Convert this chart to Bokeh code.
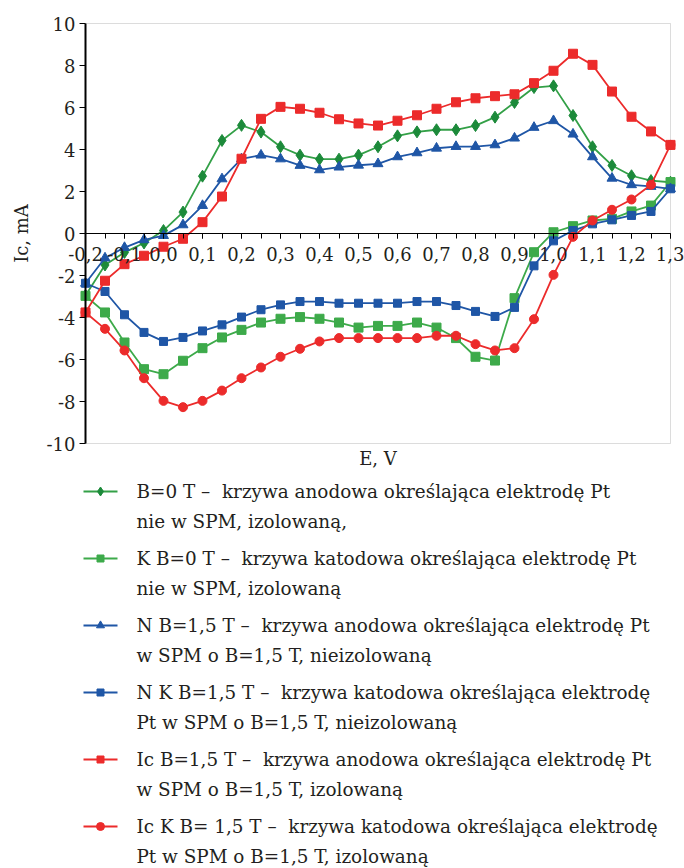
from bokeh.plotting import figure
from bokeh.layouts import column
from bokeh.models import Range1d, LinearAxis, FixedTicker, Label, BoxAnnotation
from bokeh.core.properties import value
from bokeh.embed import file_html
from bokeh.resources import INLINE

# ---------------- data ----------------
E = [-0.2, -0.15, -0.1, -0.05, 0.0, 0.05, 0.1, 0.15, 0.2, 0.25, 0.3, 0.35, 0.4, 0.45, 0.5, 0.55,
     0.6, 0.65, 0.7, 0.75, 0.8, 0.85, 0.9, 0.95, 1.0, 1.05, 1.1, 1.15, 1.2, 1.25, 1.3]

# B=0 T anodic (diamonds)
b0_anod = [-2.95, -1.5, -0.9, -0.45, 0.14, 1.02, 2.73, 4.43, 5.15, 4.83, 4.13, 3.73, 3.54, 3.54,
           3.73, 4.13, 4.65, 4.84, 4.94, 4.94, 5.14, 5.54, 6.24, 6.95, 7.03, 5.62, 4.13, 3.24,
           2.75, 2.52, 2.44]
# K B=0 T cathodic (squares)
b0_kat = [-2.97, -3.76, -5.19, -6.46, -6.70, -6.06, -5.46, -4.95, -4.59, -4.24, -4.06, -3.98,
          -4.06, -4.24, -4.48, -4.40, -4.40, -4.24, -4.48, -4.98, -5.87, -6.05, -3.08, -0.89,
          0.06, 0.35, 0.62, 0.70, 1.05, 1.33, 2.45]
# N B=1,5 T anodic (triangles)
n_anod = [-2.37, -1.17, -0.67, -0.30, -0.10, 0.41, 1.33, 2.60, 3.55, 3.73, 3.55, 3.24, 3.03,
          3.16, 3.25, 3.32, 3.65, 3.84, 4.06, 4.14, 4.14, 4.22, 4.54, 5.05, 5.37, 4.73, 3.65,
          2.63, 2.32, 2.24, 2.13]
# N K B=1,5 T cathodic (squares)
n_kat = [-2.37, -2.76, -3.87, -4.71, -5.14, -4.95, -4.64, -4.35, -3.98, -3.63, -3.40, -3.24,
         -3.24, -3.32, -3.32, -3.32, -3.32, -3.24, -3.24, -3.43, -3.71, -3.95, -3.52, -1.54,
         -0.35, 0.14, 0.46, 0.65, 0.86, 1.05, 2.13]
# Ic B=1,5 T anodic (squares)
ic_anod = [-3.76, -2.25, -1.46, -1.06, -0.63, -0.25, 0.54, 1.76, 3.56, 5.46, 6.03, 5.94, 5.75,
           5.44, 5.24, 5.14, 5.37, 5.63, 5.94, 6.25, 6.44, 6.54, 6.63, 7.16, 7.75, 8.56, 8.03,
           6.76, 5.56, 4.86, 4.22]
# Ic K B=1,5 T cathodic (circles)
ic_kat = [-3.76, -4.54, -5.57, -6.89, -7.97, -8.27, -7.97, -7.48, -6.89, -6.38, -5.87, -5.49,
          -5.14, -4.98, -4.98, -4.98, -4.98, -4.98, -4.87, -4.87, -5.27, -5.57, -5.46, -4.08,
          -1.97, -0.16, 0.62, 1.13, 1.62, 2.32, 4.22]

x_ticks = [-0.2, -0.1, 0.0, 0.1, 0.2, 0.3, 0.4, 0.5, 0.6, 0.7, 0.8, 0.9, 1.0, 1.1, 1.2, 1.3]
x_tick_labels = ["-0,2", "-0,1", "0,0", "0,1", "0,2", "0,3", "0,4", "0,5", "0,6", "0,7", "0,8",
                 "0,9", "1,0", "1,1", "1,2", "1,3"]
x_minor_ticks = E
y_ticks = [-10, -8, -6, -4, -2, 0, 2, 4, 6, 8, 10]
y_tick_labels = ["-10", "-8", "-6", "-4", "-2", "0", "2", "4", "6", "8", "10"]

series_names = [
    ("B=0 T \u2013\u00a0 krzywa anodowa okre\u015blaj\u0105ca elektrod\u0119 Pt", "nie w SPM, izolowan\u0105,"),
    ("K B=0 T \u2013\u00a0 krzywa katodowa okre\u015blaj\u0105ca elektrod\u0119 Pt", "nie w SPM, izolowan\u0105"),
    ("N B=1,5 T \u2013\u00a0 krzywa anodowa okre\u015blaj\u0105ca elektrod\u0119 Pt", "w SPM o B=1,5 T, nieizolowan\u0105"),
    ("N K B=1,5 T \u2013\u00a0 krzywa katodowa okre\u015blaj\u0105ca elektrod\u0119", "Pt w SPM o B=1,5 T, nieizolowan\u0105"),
    ("Ic B=1,5 T \u2013\u00a0 krzywa anodowa okre\u015blaj\u0105ca elektrod\u0119 Pt", "w SPM o B=1,5 T, izolowan\u0105"),
    ("Ic K B= 1,5 T \u2013\u00a0 krzywa katodowa okre\u015blaj\u0105ca elektrod\u0119", "Pt w SPM o B=1,5 T, izolowan\u0105"),
]
series_values = [b0_anod, b0_kat, n_anod, n_kat, ic_anod, ic_kat]

# ---------------- styles / layout ----------------
line_colors = ["#33A047", "#3DAA4A", "#1F56A6", "#1F56A6", "#EC2B2B", "#EC2B2B"]
marker_colors = ["#1C8A3A", "#3DAA4A", "#1F56A6", "#1F56A6", "#EC2B2B", "#EC2B2B"]
markers = ["diamond", "square", "triangle", "square", "square", "circle"]
marker_sizes = [12, 9, 10, 8, 9, 9]
legend_sizes = [9, 7, 8, 7, 7, 8]
FONT = "DejaVu Serif"
TXT = "#231F20"

W = 684
H1 = 470
LH = 397
# plot box (pixels inside the chart canvas)
PL, PR, PT, PB = 85, 670, 23, 443

x_lo, x_hi = E[0], E[-1]
y_lo, y_hi = y_ticks[0], y_ticks[-1]
sx = (PR - PL) / (x_hi - x_lo)
sy = (PB - PT) / (y_hi - y_lo)
x_range = Range1d(x_lo - PL / sx, x_hi + (W - PR) / sx)
y_range = Range1d(y_lo - (H1 - PB) / sy, y_hi + PT / sy)

# ---------------- chart ----------------
p = figure(width=W, height=H1, output_backend="svg", toolbar_location=None,
           x_range=x_range, y_range=y_range, x_axis_type=None, y_axis_type=None,
           min_border=0, min_border_left=0, min_border_right=0, min_border_top=0,
           min_border_bottom=0)
p.outline_line_color = None
p.background_fill_color = "white"
p.border_fill_color = "white"
p.xgrid.visible = False
p.ygrid.visible = False

p.add_layout(BoxAnnotation(left=x_lo, right=x_hi, bottom=y_lo, top=y_hi, fill_color=None,
                           line_color="#8C8C8C", line_width=1, level="underlay"))

yaxis = LinearAxis(ticker=FixedTicker(ticks=y_ticks), axis_label="Ic, mA",
                   fixed_location=x_lo, bounds=(y_lo, y_hi))
yaxis.major_label_overrides = {t: s for t, s in zip(y_ticks, y_tick_labels)}
yaxis.axis_line_color = "black"
yaxis.axis_line_width = 2
yaxis.major_tick_line_color = "black"
yaxis.major_tick_in = 0
yaxis.major_tick_out = 6
yaxis.minor_tick_line_color = None
yaxis.major_label_text_font = FONT
yaxis.major_label_text_font_size = "18px"
yaxis.major_label_text_color = TXT
yaxis.major_label_standoff = 4
yaxis.axis_label_text_font = FONT
yaxis.axis_label_text_font_size = "18px"
yaxis.axis_label_text_font_style = "normal"
yaxis.axis_label_text_color = TXT
yaxis.axis_label_standoff = 12
p.add_layout(yaxis, "left")

xaxis = LinearAxis(ticker=FixedTicker(ticks=x_ticks, minor_ticks=x_minor_ticks),
                   fixed_location=0, bounds=(x_lo, x_hi))
xaxis.major_label_overrides = {t: s for t, s in zip(x_ticks, x_tick_labels)}
xaxis.axis_line_color = "black"
xaxis.axis_line_width = 1
xaxis.major_tick_line_color = "black"
xaxis.minor_tick_line_color = "black"
xaxis.major_tick_in = 0
xaxis.major_tick_out = 5
xaxis.minor_tick_in = 0
xaxis.minor_tick_out = 5
xaxis.major_label_text_font = FONT
xaxis.major_label_text_font_size = "18px"
xaxis.major_label_text_color = TXT
xaxis.major_label_standoff = 8
p.add_layout(xaxis, "below")

for vals, lc, mc, mk, ms in zip(series_values, line_colors, marker_colors, markers, marker_sizes):
    p.line(E, vals, line_color=lc, line_width=1.8)
    p.scatter(E, vals, marker=mk, size=ms, fill_color=mc, line_color=mc)

p.add_layout(Label(x=(x_lo + x_hi) / 2, y=y_lo, text="E, V", text_align="center",
                   text_baseline="top", y_offset=-4, text_font=FONT,
                   text_font_size="18px", text_color=TXT))

# ---------------- legend ----------------
q = figure(width=W, height=LH, output_backend="svg", toolbar_location=None,
           x_range=Range1d(0, W), y_range=Range1d(LH, 0),
           x_axis_type=None, y_axis_type=None,
           min_border=0, min_border_left=0, min_border_right=0, min_border_top=0,
           min_border_bottom=0)
q.outline_line_color = None
q.xgrid.visible = False
q.ygrid.visible = False

row0, row_step, line_gap = 21, 67, 30
for i, ((l1, l2), lc, mc, mk, ms) in enumerate(zip(series_names, line_colors, marker_colors, markers, legend_sizes)):
    yy = row0 + i * row_step
    q.segment(x0=[83], y0=[yy], x1=[117], y1=[yy], line_color=lc, line_width=2)
    q.scatter([100], [yy], marker=mk, size=ms, fill_color=mc, line_color=mc)
    q.text(x=[136, 136], y=[yy, yy + line_gap], text=[l1, l2], text_font=value(FONT),
           text_font_size="18.4px", text_baseline="middle", text_color=TXT)

layout = column(p, q)
open("out.html", "w").write(file_html(layout, INLINE))
